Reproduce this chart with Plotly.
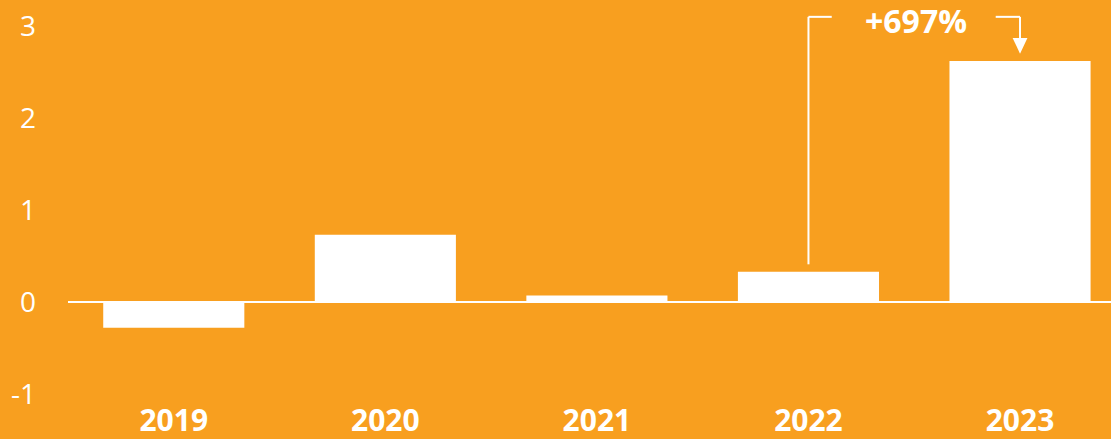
import plotly.graph_objects as go

# Year-over-year values
years = ["2019", "2020", "2021", "2022", "2023"]
values = [-0.28, 0.73, 0.07, 0.33, 2.62]
y_ticks = [-1, 0, 1, 2, 3]
y_tick_text = ["-1", "0", "1", "2", "3"]
change_label = "+697%"

ORANGE = "#F89F1F"
WHITE = "#FFFFFF"

x_pos = list(range(len(years)))

fig = go.Figure()
fig.add_trace(go.Bar(
    x=x_pos, y=values,
    marker=dict(color=WHITE, line=dict(width=0)),
    hoverinfo="skip",
))

# Bracket linking the last two bars
i_from, i_to = 3, 4
top = 3.10
line = dict(color=WHITE, width=2)
fig.add_shape(type="line", x0=i_from, x1=i_from, y0=values[i_from] + 0.08, y1=top, line=line)
fig.add_shape(type="line", x0=i_from, x1=i_from + 0.11, y0=top, y1=top, line=line)
fig.add_shape(type="line", x0=i_to - 0.115, x1=i_to, y0=top, y1=top, line=line)
fig.add_shape(type="line", x0=i_to, x1=i_to, y0=top, y1=2.86, line=line)
fig.add_shape(type="path",
              path=f"M {i_to - 0.035},2.87 L {i_to + 0.035},2.87 L {i_to},2.70 Z",
              fillcolor=WHITE, line=dict(width=0))

fig.add_annotation(
    x=(i_from + i_to) / 2 + 0.01, y=top - 0.04, text=change_label, showarrow=False,
    font=dict(family="Open Sans", size=32, color=WHITE, weight="bold"),
    xanchor="center", yanchor="middle",
)

fig.update_layout(
    width=1111, height=439,
    margin=dict(l=68, r=0, t=0, b=39),
    paper_bgcolor=ORANGE, plot_bgcolor=ORANGE,
    bargap=0.333,
    showlegend=False,
    xaxis=dict(
        range=[-0.5, 4.43],
        tickvals=x_pos, ticktext=years,
        showgrid=False, zeroline=False, showline=False, ticks="",
        tickfont=dict(family="Open Sans", size=30, color=WHITE, weight="bold"),
        ticklabelstandoff=0,
        automargin=False,
    ),
    yaxis=dict(
        range=[-1.065, 3.283],
        tickvals=y_ticks, ticktext=y_tick_text,
        showgrid=False, showline=False, ticks="",
        zeroline=True, zerolinecolor=WHITE, zerolinewidth=2,
        tickfont=dict(family="Open Sans", size=28, color=WHITE),
        ticklabelstandoff=31,
        automargin=False,
    ),
)

fig.write_html("out.html")
